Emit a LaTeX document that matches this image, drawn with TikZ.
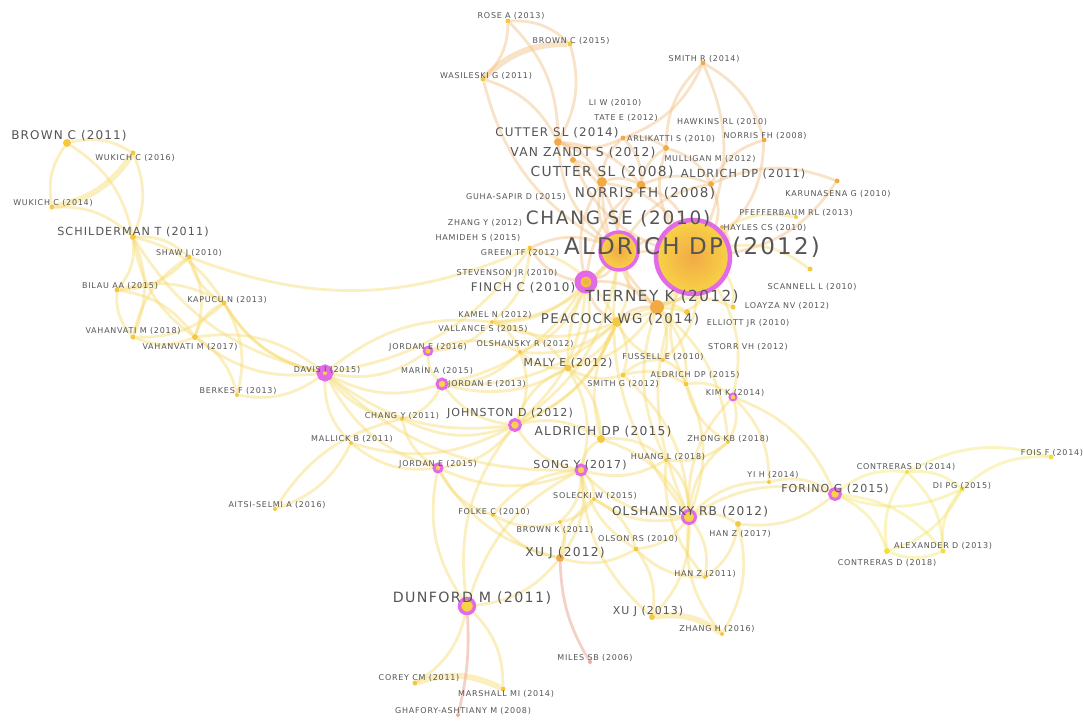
\documentclass[tikz,border=0pt]{standalone}
\usepackage{fontspec}
\newfontfamily\labfont[LetterSpace=9.5]{DejaVu Sans}
\usetikzlibrary{backgrounds}
\definecolor{dotyellow}{HTML}{F6C83E}
\definecolor{dotorange}{HTML}{F2AA45}
\definecolor{dotlemon}{HTML}{F4DE3C}
\definecolor{dotpink}{HTML}{EDB09E}
\definecolor{hubyellow}{HTML}{F8D247}
\definecolor{ringpink}{HTML}{E36AE6}
\definecolor{linkyellow}{HTML}{F7DA6A}
\definecolor{linklemon}{HTML}{F4E56A}
\definecolor{linkorange}{HTML}{F3BE7C}
\definecolor{linkpink}{HTML}{EDB3A3}
\definecolor{labgray}{HTML}{555555}

\begin{document}
\begin{tikzpicture}[x=1pt,y=-1pt,
    dot/.style={circle, fill=dotyellow, inner sep=0pt, minimum size=#1},
    dot/.default=5pt,
    odot/.style={dot=#1, fill=dotorange},
    odot/.default=5pt,
    ldot/.style={dot=#1, fill=dotlemon},
    ldot/.default=5pt,
    pdot/.style={dot=#1, fill=dotpink},
    pdot/.default=4pt,
    hub/.style={circle, fill=hubyellow, draw=ringpink, line width=3pt, inner sep=0pt, minimum size=#1},
    lab/.style={font=\labfont\fontsize{#1}{#1}\selectfont, text=labgray, inner sep=0pt},
    lab/.default=8pt
    ]
    \tikzset{linkbase/.style={line width=2.8pt, opacity=0.42}}
    \tikzset{lk/.style={linkbase, draw=linkyellow, bend left=22}}
    \tikzset{lkr/.style={linkbase, draw=linkyellow, bend right=22}}
    \tikzset{lko/.style={linkbase, draw=linkorange, bend left=22}}
    \tikzset{lkor/.style={linkbase, draw=linkorange, bend right=22}}
    \tikzset{lkl/.style={linkbase, draw=linklemon, bend left=22}}
    \tikzset{lklr/.style={linkbase, draw=linklemon, bend right=22}}
    \tikzset{lkp/.style={linkbase, draw=linkpink, opacity=0.6}}
    \tikzset{thick link/.style={line width=6pt}}
    \useasboundingbox (0,0) rectangle (1083,720);
    %
    %vertices
    %
    \node[dot] (rosea13) at (508,21) {};
    \node[dot] (brownc15) at (570,44) {};
    \node[dot] (wasileski11) at (483,79) {};
    \node[odot] (smithr14) at (703,63) {};
    \node[odot=8pt] (cutter14) at (558,142) {};
    \node[odot] (arlikatti10) at (623,138) {};
    \node[odot] (norris08s) at (764,140) {};
    \node[odot=6pt] (vanzandt12) at (573,160) {};
    \node[odot=6pt] (mulligan12) at (666,148) {};
    \node[odot=10pt] (cutter08) at (602,182) {};
    \node[odot=6pt] (aldrich11) at (711,184) {};
    \node[odot=9pt] (norris08) at (641,185) {};
    \node[odot] (karunasena10) at (837,181) {};
    \node[hub=38pt, line width=3.5pt, shade, inner color=dotorange, outer color=hubyellow] (changse10) at (619,251) {};
    \node[dot=4pt] (pfefferbaum13) at (796,217) {};
    \node[odot=4pt] (hayles10) at (722,227) {};
    \node[hub=74pt, line width=4.5pt, shade, inner color=dotorange, outer color=hubyellow] (aldrich12) at (693,257) {};
    \node[dot] (greentf12) at (530,248) {};
    \node[hub=17pt, line width=6pt, shade, inner color=dotorange, outer color=hubyellow] (finch10) at (586,282) {};
    \node[dot] (scannell10) at (810,269) {};
    \node[odot=14pt] (tierney12) at (657,307) {};
    \node[dot] (loayza12) at (733,307) {};
    \node[dot=4pt] (kamel12) at (492,322) {};
    \node[dot=10pt] (peacock14) at (617,322) {};
    \node[dot=6pt] (elliott10) at (687,312) {};
    \node[dot=4pt] (olshanskyr12) at (520,352) {};
    \node[dot=4pt] (fussell10) at (663,360) {};
    \node[dot=7pt] (malye12) at (568,368) {};
    \node[dot] (smithg12) at (623,375) {};
    \node[dot] (aldrich15s) at (686,384) {};
    \node[hub=7pt, line width=2pt] (kimk14) at (733,397) {};
    \node[hub=8pt, line width=2.5pt] (jordan16) at (428,351) {};
    \node[hub=10pt] (jordan13) at (442,384) {};
    \node[hub=11pt, line width=6pt] (davis15) at (325,373) {};
    \node[dot=4pt] (changy11) at (402,419) {};
    \node[hub=11pt] (johnston12) at (515,425) {};
    \node[dot=8pt] (aldrich15) at (601,439) {};
    \node[dot=4pt] (zhongkb18) at (728,442) {};
    \node[dot=4pt] (mallick11) at (351,443) {};
    \node[dot=4pt] (huangl18) at (666,460) {};
    \node[hub=10pt] (songy17) at (581,470) {};
    \node[hub=8pt] (jordan15) at (438,468) {};
    \node[dot=4pt] (yih14) at (769,482) {};
    \node[hub=11pt] (forino15) at (835,494) {};
    \node[dot=4pt] (solecki15) at (594,499) {};
    \node[dot=4pt] (aitsi16) at (275,509) {};
    \node[dot=4pt] (folke10) at (493,515) {};
    \node[hub=13pt] (olshanskyrb12) at (689,517) {};
    \node[dot=4pt] (brownk11) at (560,522) {};
    \node[dot=6pt] (hanz17) at (738,524) {};
    \node[dot] (olson10) at (636,549) {};
    \node[odot=8pt] (xuj12) at (560,558) {};
    \node[dot=4pt] (hanz11) at (705,577) {};
    \node[hub=15pt, line width=3.5pt] (dunford11) at (467,606) {};
    \node[dot=6pt] (xuj13) at (652,617) {};
    \node[dot=4pt] (zhangh16) at (722,634) {};
    \node[pdot] (miles06) at (590,662) {};
    \node[dot] (corey11) at (415,683) {};
    \node[dot] (marshall14) at (503,689) {};
    \node[pdot] (ghafory08) at (458,715) {};
    \node[ldot] (fois14) at (1051,457) {};
    \node[ldot=4pt] (contreras14) at (907,472) {};
    \node[ldot] (dipg15) at (962,489) {};
    \node[ldot] (alexander13) at (943,551) {};
    \node[ldot=6pt] (contreras18) at (887,551) {};
    \node[dot=8pt] (brownc11) at (67,143) {};
    \node[dot] (wukich16) at (133,153) {};
    \node[dot] (wukich14) at (52,207) {};
    \node[dot=6pt] (schilderman11) at (133,237) {};
    \node[dot] (shaw10) at (189,257) {};
    \node[dot] (bilau15) at (117,290) {};
    \node[dot] (kapucu13) at (224,303) {};
    \node[dot] (vahanvati18) at (133,337) {};
    \node[dot=6pt] (vahanvati17) at (195,337) {};
    \node[dot=4pt] (berkes13) at (237,395) {};
    %
    %edges
    %
    \begin{scope}[on background layer]
    \fill[white] (0,0) rectangle (1083,720);
    \foreach \a/\b in {rosea13/wasileski11, rosea13/brownc15, rosea13/cutter14, brownc15/cutter14,
        wasileski11/cutter14, smithr14/arlikatti10, smithr14/norris08s, smithr14/aldrich12,
        cutter14/vanzandt12, cutter14/cutter08, cutter14/norris08, arlikatti10/mulligan12,
        arlikatti10/norris08, mulligan12/aldrich11, vanzandt12/cutter08, vanzandt12/changse10,
        cutter08/norris08, cutter08/aldrich12, norris08/aldrich12, norris08/aldrich11,
        aldrich11/aldrich12, norris08s/aldrich12, karunasena10/aldrich12, hayles10/aldrich12,
        changse10/aldrich12, changse10/finch10, finch10/tierney12, aldrich12/tierney12,
        greentf12/changse10}
        \draw[lko] (\a) to (\b);
    \foreach \a/\b in {wasileski11/changse10, smithr14/mulligan12, cutter14/changse10,
        cutter14/arlikatti10, arlikatti10/cutter08, mulligan12/norris08, mulligan12/aldrich12,
        vanzandt12/aldrich12, cutter08/changse10, cutter08/finch10, norris08/changse10,
        aldrich11/changse10, norris08s/aldrich11, karunasena10/aldrich11, changse10/tierney12,
        aldrich12/finch10, finch10/peacock14, tierney12/peacock14, greentf12/finch10,
        norris08/finch10, cutter08/tierney12}
        \draw[lkor] (\a) to (\b);
    \draw[lko, thick link] (wasileski11) to (brownc15);
    \foreach \a/\b in {aldrich12/scannell10, aldrich12/loayza12, aldrich12/elliott10,
        aldrich12/pfefferbaum13, aldrich12/peacock14, aldrich12/kimk14, aldrich12/fussell10,
        tierney12/loayza12, tierney12/elliott10, peacock14/malye12, peacock14/olshanskyr12,
        peacock14/kamel12, peacock14/smithg12, peacock14/johnston12, finch10/kamel12,
        finch10/olshanskyr12, finch10/malye12, changse10/peacock14, changse10/johnston12,
        tierney12/aldrich15s, tierney12/zhongkb18, malye12/olshanskyr12, malye12/jordan13,
        malye12/aldrich15, smithg12/aldrich15s, smithg12/fussell10, aldrich15s/kimk14,
        aldrich15s/olshanskyrb12, kimk14/zhongkb18, kimk14/yih14, kimk14/forino15,
        zhongkb18/huangl18, huangl18/olshanskyrb12, huangl18/songy17, yih14/forino15,
        olshanskyrb12/forino15, olshanskyrb12/hanz17, olshanskyrb12/hanz11, olshanskyrb12/olson10,
        olshanskyrb12/xuj13, olshanskyrb12/solecki15, olshanskyrb12/songy17, hanz17/zhangh16,
        hanz17/hanz11, hanz11/olson10, olson10/xuj12, olson10/songy17, xuj13/songy17,
        songy17/solecki15, songy17/brownk11, songy17/xuj12, songy17/aldrich15, songy17/johnston12,
        songy17/davis15, songy17/jordan15, solecki15/brownk11, brownk11/xuj12, brownk11/folke10,
        folke10/jordan15, xuj12/dunford11, xuj12/jordan15, dunford11/corey11, dunford11/marshall14,
        dunford11/johnston12, dunford11/jordan15, johnston12/aldrich15, johnston12/jordan13,
        johnston12/jordan15, johnston12/changy11, johnston12/davis15, johnston12/mallick11,
        jordan13/jordan16, jordan13/davis15, jordan13/changy11, jordan16/davis15,
        jordan16/olshanskyr12, jordan15/davis15, jordan15/mallick11, jordan15/changy11,
        changy11/davis15, mallick11/davis15, mallick11/aitsi16, aitsi16/changy11,
        davis15/berkes13, davis15/vahanvati17, davis15/kapucu13, davis15/schilderman11,
        davis15/kamel12, kamel12/malye12, kamel12/olshanskyr12, olshanskyr12/jordan13,
        kamel12/jordan16, greentf12/peacock14, greentf12/kamel12, finch10/johnston12,
        finch10/jordan13, changse10/kamel12, tierney12/malye12, tierney12/fussell10,
        peacock14/elliott10}
        \draw[lk] (\a) to (\b);
    \foreach \a/\b in {aldrich12/olshanskyrb12, aldrich12/aldrich15s, tierney12/huangl18,
        peacock14/fussell10, peacock14/aldrich15, changse10/malye12, changse10/olshanskyrb12,
        malye12/johnston12, malye12/smithg12, aldrich15s/fussell10, aldrich15s/zhongkb18,
        kimk14/olshanskyrb12, zhongkb18/olshanskyrb12, huangl18/aldrich15, huangl18/hanz11,
        yih14/olshanskyrb12, olshanskyrb12/zhangh16, olshanskyrb12/aldrich15,
        olshanskyrb12/smithg12, hanz17/forino15, olson10/solecki15, xuj13/olson10,
        songy17/malye12, songy17/folke10, songy17/dunford11, solecki15/xuj12, folke10/xuj12,
        johnston12/peacock14, johnston12/olshanskyr12, jordan13/peacock14, davis15/greentf12,
        shaw10/greentf12}
        \draw[lkr] (\a) to (\b);
    \foreach \a/\b in {brownc11/wukich16, brownc11/schilderman11, wukich16/schilderman11,
        wukich14/schilderman11, schilderman11/shaw10, schilderman11/bilau15,
        schilderman11/kapucu13, schilderman11/vahanvati18, shaw10/bilau15, shaw10/vahanvati17,
        bilau15/kapucu13, bilau15/vahanvati17, kapucu13/vahanvati18, kapucu13/berkes13,
        vahanvati17/berkes13, vahanvati17/davis15}
        \draw[lk] (\a) to (\b);
    \foreach \a/\b in {brownc11/wukich14, schilderman11/vahanvati17, shaw10/kapucu13,
        shaw10/vahanvati18, bilau15/vahanvati18, kapucu13/vahanvati17, vahanvati18/vahanvati17,
        kapucu13/davis15}
        \draw[lkr] (\a) to (\b);
    \draw[lk, thick link] (wukich16) to (wukich14);
    \draw[lk, thick link] (corey11) to (marshall14);
    \draw[lk, thick link] (xuj13) to (zhangh16);
    \foreach \a/\b in {forino15/contreras14, forino15/alexander13, forino15/contreras18,
        contreras14/alexander13, contreras14/dipg15, dipg15/contreras18, dipg15/fois14,
        alexander13/contreras18}
        \draw[lkl] (\a) to (\b);
    \foreach \a/\b in {forino15/dipg15, contreras14/contreras18, dipg15/alexander13,
        fois14/contreras14}
        \draw[lklr] (\a) to (\b);
    \draw[lkp, bend right=14] (xuj12) to (miles06);
    \draw[lkp, bend left=8] (dunford11) to (ghafory08);
    \end{scope}
    %
    %labels
    %
    \node[lab] (rosea13t) at (511,16) {ROSE A (2013)};
    \node[lab] (brownc15t) at (571,41) {BROWN C (2015)};
    \node[lab] (wasileski11t) at (486,76) {WASILESKI G (2011)};
    \node[lab] (smithr14t) at (704,59) {SMITH R (2014)};
    \node[lab] (liw10t) at (615,103) {LI W (2010)};
    \node[lab] (tatee12t) at (626,118) {TATE E (2012)};
    \node[lab] (hawkins10t) at (722,122) {HAWKINS RL (2010)};
    \node[lab=11.9pt] (cutter14t) at (557,133) {CUTTER SL (2014)};
    \node[lab] (arlikatti10t) at (671,139) {ARLIKATTI S (2010)};
    \node[lab] (norris08st) at (765,136) {NORRIS FH (2008)};
    \node[lab=12.3pt] (vanzandt12t) at (583,153) {VAN ZANDT S (2012)};
    \node[lab] (mulligan12t) at (710,159) {MULLIGAN M (2012)};
    \node[lab=13.8pt] (cutter08t) at (602,172) {CUTTER SL (2008)};
    \node[lab=11.2pt] (aldrich11t) at (743,174) {ALDRICH DP (2011)};
    \node[lab] (guhasapir15t) at (516,197) {GUHA-SAPIR D (2015)};
    \node[lab=13.5pt] (norris08t) at (645,193) {NORRIS FH (2008)};
    \node[lab] (karunasena10t) at (838,194) {KARUNASENA G (2010)};
    \node[lab] (zhangy12t) at (485,223) {ZHANG Y (2012)};
    \node[lab=18.4pt] (changse10t) at (618,219) {CHANG SE (2010)};
    \node[lab] (pfefferbaum13t) at (796,213) {PFEFFERBAUM RL (2013)};
    \node[lab] (hayles10t) at (765,228) {HAYLES CS (2010)};
    \node[lab=23pt] (aldrich12t) at (692,247) {ALDRICH DP (2012)};
    \node[lab] (hamideh15t) at (478,238) {HAMIDEH S (2015)};
    \node[lab] (greentf12t) at (520,253) {GREEN TF (2012)};
    \node[lab] (stevenson10t) at (507,273) {STEVENSON JR (2010)};
    \node[lab=11.9pt] (finch10t) at (523,288) {FINCH C (2010)};
    \node[lab] (scannell10t) at (812,287) {SCANNELL L (2010)};
    \node[lab=15.2pt] (tierney12t) at (662,297) {TIERNEY K (2012)};
    \node[lab] (loayza12t) at (787,306) {LOAYZA NV (2012)};
    \node[lab] (kamel12t) at (495,315) {KAMEL N (2012)};
    \node[lab=13.4pt] (peacock14t) at (620,319) {PEACOCK WG (2014)};
    \node[lab] (elliott10t) at (748,323) {ELLIOTT JR (2010)};
    \node[lab] (vallance15t) at (483,329) {VALLANCE S (2015)};
    \node[lab] (olshanskyr12t) at (525,344) {OLSHANSKY R (2012)};
    \node[lab] (storr12t) at (748,347) {STORR VH (2012)};
    \node[lab] (fussell10t) at (663,357) {FUSSELL E (2010)};
    \node[lab=10.9pt] (malye12t) at (568,363) {MALY E (2012)};
    \node[lab] (smithg12t) at (623,384) {SMITH G (2012)};
    \node[lab] (aldrich15st) at (695,375) {ALDRICH DP (2015)};
    \node[lab] (kimk14t) at (735,393) {KIM K (2014)};
    \node[lab] (jordan16t) at (428,347) {JORDAN E (2016)};
    \node[lab] (marin15t) at (437,370) {MARÍN A (2015)};
    \node[lab] (jordan13t) at (487,384) {JORDAN E (2013)};
    \node[lab] (davis15t) at (327,370) {DAVIS I (2015)};
    \node[lab] (changy11t) at (402,416) {CHANG Y (2011)};
    \node[lab=11pt] (johnston12t) at (510,413) {JOHNSTON D (2012)};
    \node[lab=12.3pt] (aldrich15t) at (603,432) {ALDRICH DP (2015)};
    \node[lab] (zhongkb18t) at (728,439) {ZHONG KB (2018)};
    \node[lab] (mallick11t) at (352,439) {MALLICK B (2011)};
    \node[lab] (huangl18t) at (668,457) {HUANG L (2018)};
    \node[lab=11pt] (songy17t) at (580,465) {SONG Y (2017)};
    \node[lab] (jordan15t) at (438,464) {JORDAN E (2015)};
    \node[lab] (yih14t) at (773,475) {YI H (2014)};
    \node[lab=11pt] (forino15t) at (835,489) {FORINO G (2015)};
    \node[lab] (solecki15t) at (595,496) {SOLECKI W (2015)};
    \node[lab] (aitsi16t) at (277,505) {AITSI-SELMI A (2016)};
    \node[lab] (folke10t) at (494,512) {FOLKE C (2010)};
    \node[lab=12.1pt] (olshanskyrb12t) at (690,512) {OLSHANSKY RB (2012)};
    \node[lab] (brownk11t) at (555,530) {BROWN K (2011)};
    \node[lab] (hanz17t) at (740,534) {HAN Z (2017)};
    \node[lab] (olson10t) at (638,539) {OLSON RS (2010)};
    \node[lab=12.3pt] (xuj12t) at (565,553) {XU J (2012)};
    \node[lab] (hanz11t) at (705,574) {HAN Z (2011)};
    \node[lab=14.2pt] (dunford11t) at (472,598) {DUNFORD M (2011)};
    \node[lab=10.9pt] (xuj13t) at (648,611) {XU J (2013)};
    \node[lab] (zhangh16t) at (717,629) {ZHANG H (2016)};
    \node[lab] (miles06t) at (595,658) {MILES SB (2006)};
    \node[lab] (corey11t) at (419,678) {COREY CM (2011)};
    \node[lab] (marshall14t) at (506,694) {MARSHALL MI (2014)};
    \node[lab] (ghafory08t) at (463,711) {GHAFORY-ASHTIANY M (2008)};
    \node[lab] (fois14t) at (1052,453) {FOIS F (2014)};
    \node[lab] (contreras14t) at (906,467) {CONTRERAS D (2014)};
    \node[lab] (dipg15t) at (962,486) {DI PG (2015)};
    \node[lab] (alexander13t) at (943,546) {ALEXANDER D (2013)};
    \node[lab] (contreras18t) at (887,563) {CONTRERAS D (2018)};
    \node[lab=12pt] (brownc11t) at (69,136) {BROWN C (2011)};
    \node[lab] (wukich16t) at (135,158) {WUKICH C (2016)};
    \node[lab] (wukich14t) at (53,203) {WUKICH C (2014)};
    \node[lab=11.2pt] (schilderman11t) at (133,232) {SCHILDERMAN T (2011)};
    \node[lab] (shaw10t) at (189,253) {SHAW J (2010)};
    \node[lab] (bilau15t) at (120,286) {BILAU AA (2015)};
    \node[lab] (kapucu13t) at (227,300) {KAPUCU N (2013)};
    \node[lab] (vahanvati18t) at (133,331) {VAHANVATI M (2018)};
    \node[lab] (vahanvati17t) at (190,347) {VAHANVATI M (2017)};
    \node[lab] (berkes13t) at (238,391) {BERKES F (2013)};
\end{tikzpicture}
\end{document}
